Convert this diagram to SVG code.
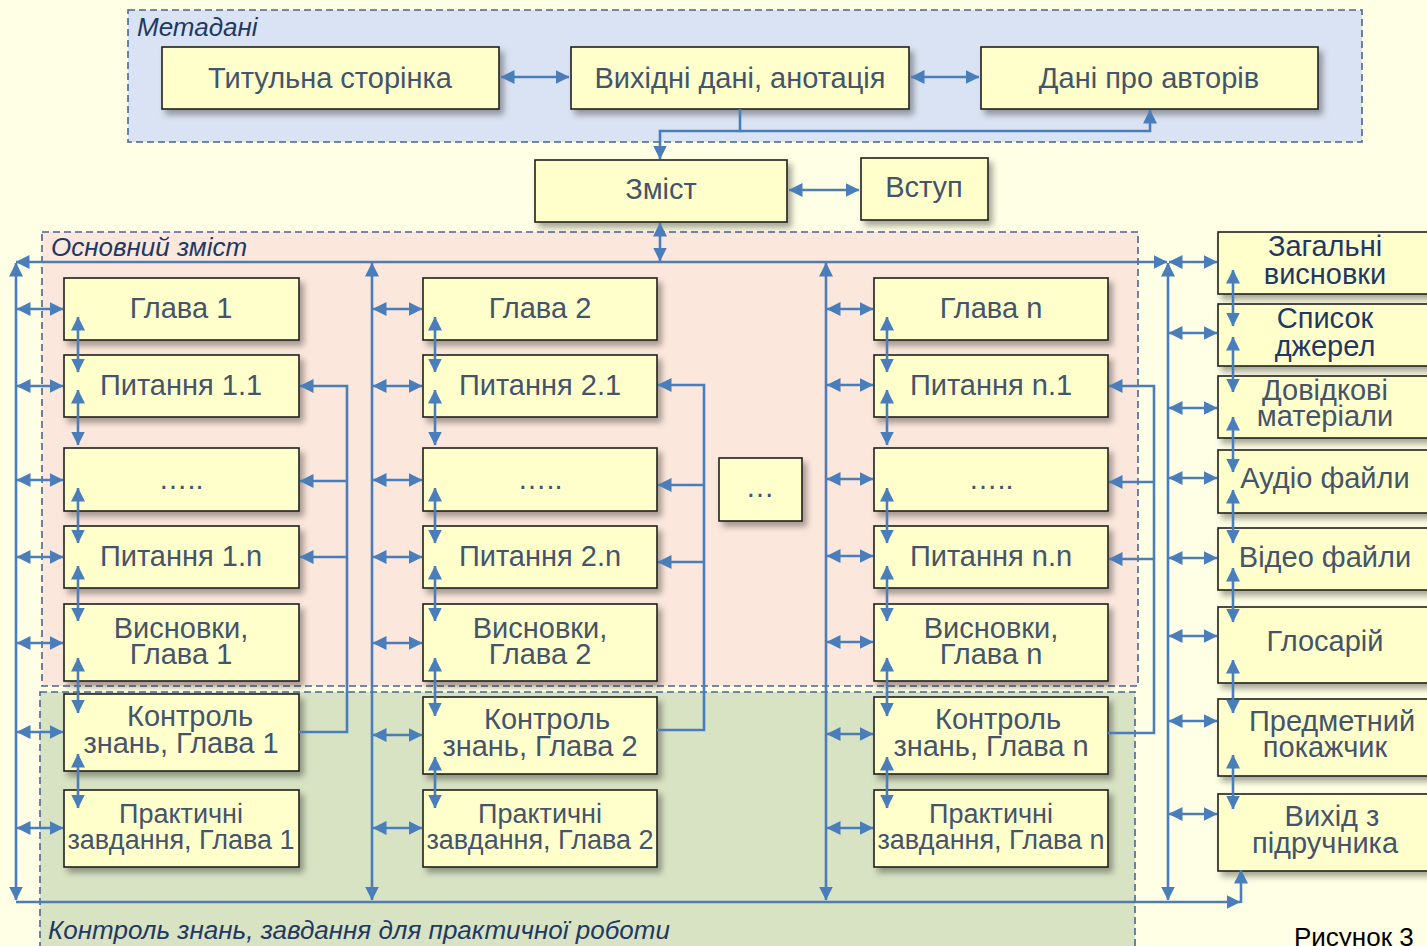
<svg xmlns="http://www.w3.org/2000/svg" width="1427" height="946" viewBox="0 0 1427 946">
<defs>
<style>
.box{fill:#FFFFCC;stroke:#1E1E1E;stroke-width:1.6;filter:url(#sh)}
.t{font-family:"Liberation Sans",Arial,sans-serif;font-size:29px;fill:#44546A;text-anchor:middle}
.ts{font-size:27px}
.tn{fill:#1F3864}
.lbl{font-family:"Liberation Sans",Arial,sans-serif;font-size:26px;font-style:italic;fill:#1F3864}
.c{stroke:#4A7EBB;stroke-width:2.6;fill:none}
.d{marker-start:url(#ah);marker-end:url(#ah)}
.e{marker-end:url(#ah)}
.grp{stroke:#4A6690;stroke-width:1.6;stroke-dasharray:7 4}
</style>
<marker id="ah" viewBox="0 0 14 14" refX="13.5" refY="7" markerWidth="14" markerHeight="14" markerUnits="userSpaceOnUse" orient="auto-start-reverse"><path d="M0,0 L14,7 L0,14 z" fill="#4A7EBB"/></marker>
<filter id="sh" x="-10%" y="-20%" width="130%" height="150%"><feDropShadow dx="4" dy="5" stdDeviation="3" flood-color="#000" flood-opacity="0.35"/></filter>
</defs>
<rect x="0" y="0" width="1427" height="946" fill="#FFFFE6"/>
<g id="groups">
<rect class="grp" x="128" y="10" width="1234" height="132" fill="#DAE3F3"/>
<text class="lbl" x="137" y="36">Метадані</text>
<rect class="grp" x="42" y="232" width="1096" height="454" fill="#FCE7DC"/>
<text class="lbl" x="51" y="256">Основний зміст</text>
<rect class="grp" x="40" y="692" width="1095" height="260" fill="#D8E3C3"/>
<text class="lbl" x="48" y="939">Контроль знань, завдання для практичної роботи</text>
</g>
<g id="n-title"><rect class="box" x="162" y="47" width="337" height="62"/><text class="t" x="330" y="88">Титульна сторінка</text></g>
<g id="n-out"><rect class="box" x="571" y="47" width="338" height="62"/><text class="t" x="740" y="88">Вихідні дані, анотація</text></g>
<g id="n-auth"><rect class="box" x="981" y="47" width="337" height="62"/><text class="t" x="1149" y="88">Дані про авторів</text></g>
<g id="n-toc"><rect class="box" x="535" y="160" width="252" height="62"/><text class="t" x="661" y="199">Зміст</text></g>
<g id="n-intro"><rect class="box" x="861" y="158" width="127" height="62"/><text class="t" x="924" y="197">Вступ</text></g>

<g id="n-g1"><rect class="box" x="64" y="278" width="235" height="62"/><text class="t" x="181" y="318">Глава 1</text></g>
<g id="n-q11"><rect class="box" x="64" y="355" width="235" height="62"/><text class="t" x="181" y="395">Питання 1.1</text></g>
<g id="n-d1"><rect class="box" x="64" y="448" width="235" height="63"/><text class="t" x="181" y="489">…..</text></g>
<g id="n-q1n"><rect class="box" x="64" y="526" width="235" height="62"/><text class="t" x="181" y="566">Питання 1.n</text></g>
<g id="n-v1"><rect class="box" x="64" y="604" width="235" height="77"/><text class="t" x="181" y="638">Висновки,<tspan x="181" y="664">Глава 1</tspan></text></g>
<g id="n-k1"><rect class="box" x="64" y="694" width="235" height="77"/><text class="t" x="190" y="726">Контроль<tspan x="181" y="753">знань, Глава 1</tspan></text></g>
<g id="n-p1"><rect class="box" x="64" y="790" width="235" height="77"/><text class="t ts" x="181" y="823">Практичні<tspan x="181" y="849">завдання, Глава 1</tspan></text></g>

<g id="n-g2"><rect class="box" x="423" y="278" width="234" height="62"/><text class="t" x="540" y="318">Глава 2</text></g>
<g id="n-q21"><rect class="box" x="423" y="355" width="234" height="62"/><text class="t" x="540" y="395">Питання 2.1</text></g>
<g id="n-d2"><rect class="box" x="423" y="448" width="234" height="63"/><text class="t" x="540" y="489">…..</text></g>
<g id="n-q2n"><rect class="box" x="423" y="526" width="234" height="62"/><text class="t" x="540" y="566">Питання 2.n</text></g>
<g id="n-v2"><rect class="box" x="423" y="604" width="234" height="77"/><text class="t" x="540" y="638">Висновки,<tspan x="540" y="664">Глава 2</tspan></text></g>
<g id="n-k2"><rect class="box" x="423" y="697" width="234" height="77"/><text class="t" x="547" y="729">Контроль<tspan x="540" y="756">знань, Глава 2</tspan></text></g>
<g id="n-p2"><rect class="box" x="423" y="790" width="234" height="77"/><text class="t ts" x="540" y="823">Практичні<tspan x="540" y="849">завдання, Глава 2</tspan></text></g>

<g id="n-more"><rect class="box" x="719" y="458" width="83" height="63"/><text class="t" x="760" y="497">…</text></g>

<g id="n-gn"><rect class="box" x="874" y="278" width="234" height="62"/><text class="t" x="991" y="318">Глава n</text></g>
<g id="n-qn1"><rect class="box" x="874" y="355" width="234" height="62"/><text class="t" x="991" y="395">Питання n.1</text></g>
<g id="n-dn"><rect class="box" x="874" y="448" width="234" height="63"/><text class="t" x="991" y="489">…..</text></g>
<g id="n-qnn"><rect class="box" x="874" y="526" width="234" height="62"/><text class="t" x="991" y="566">Питання n.n</text></g>
<g id="n-vn"><rect class="box" x="874" y="604" width="234" height="77"/><text class="t" x="991" y="638">Висновки,<tspan x="991" y="664">Глава n</tspan></text></g>
<g id="n-kn"><rect class="box" x="874" y="697" width="234" height="77"/><text class="t" x="998" y="729">Контроль<tspan x="991" y="756">знань, Глава n</tspan></text></g>
<g id="n-pn"><rect class="box" x="874" y="790" width="234" height="77"/><text class="t ts" x="991" y="823">Практичні<tspan x="991" y="849">завдання, Глава n</tspan></text></g>

<g id="n-concl"><rect class="box" x="1218" y="232" width="216" height="62"/><text class="t tn" x="1325" y="256">Загальні<tspan x="1325" y="284">висновки</tspan></text></g>
<g id="n-src"><rect class="box" x="1218" y="304" width="216" height="62"/><text class="t tn" x="1325" y="328">Список<tspan x="1325" y="356">джерел</tspan></text></g>
<g id="n-ref"><rect class="box" x="1218" y="376" width="216" height="62"/><text class="t" x="1325" y="400">Довідкові<tspan x="1325" y="426">матеріали</tspan></text></g>
<g id="n-audio"><rect class="box" x="1218" y="450" width="216" height="63"/><text class="t" x="1325" y="488">Аудіо файли</text></g>
<g id="n-video"><rect class="box" x="1218" y="528" width="216" height="62"/><text class="t" x="1325" y="567">Відео файли</text></g>
<g id="n-gloss"><rect class="box" x="1218" y="607" width="216" height="76"/><text class="t" x="1325" y="651">Глосарій</text></g>
<g id="n-index"><rect class="box" x="1218" y="699" width="216" height="77"/><text class="t" x="1332" y="731">Предметний<tspan x="1325" y="757">покажчик</tspan></text></g>
<g id="n-exit"><rect class="box" x="1218" y="794" width="216" height="77"/><text class="t" x="1332" y="826">Вихід з<tspan x="1325" y="853">підручника</tspan></text></g>

<g id="connectors">
<path class="c d" d="M501,77 H569"/>
<path class="c d" d="M911,77 H979"/>
<path class="c e" d="M740,109 V131 H660 V159"/>
<path class="c e" d="M740,131 H1150 V110"/>
<path class="c d" d="M789,190 H859"/>
<path class="c d" d="M660,223 V261"/>
<path class="c d" d="M16,262 H1167"/>
<path class="c d" d="M16,263 V900"/>
<path class="c d" d="M372,263 V900"/>
<path class="c d" d="M826,263 V900"/>
<path class="c d" d="M1168,263 V900"/>
<path class="c e" d="M16,902 H1240"/>
<path class="c e" d="M1241,903 V870"/>

<path class="c d" d="M17,309 H63"/><path class="c d" d="M17,386 H63"/><path class="c d" d="M17,480 H63"/><path class="c d" d="M17,557 H63"/><path class="c d" d="M17,643 H63"/><path class="c d" d="M17,732 H63"/><path class="c d" d="M17,828 H63"/>
<path class="c d" d="M373,309 H422"/><path class="c d" d="M373,386 H422"/><path class="c d" d="M373,480 H422"/><path class="c d" d="M373,557 H422"/><path class="c d" d="M373,643 H422"/><path class="c d" d="M373,735 H422"/><path class="c d" d="M373,828 H422"/>
<path class="c d" d="M827,309 H873"/><path class="c d" d="M827,385 H873"/><path class="c d" d="M827,479 H873"/><path class="c d" d="M827,556 H873"/><path class="c d" d="M827,642 H873"/><path class="c d" d="M827,734 H873"/><path class="c d" d="M827,828 H873"/>
<path class="c d" d="M1169,262 H1217"/><path class="c d" d="M1169,333 H1217"/><path class="c d" d="M1169,408 H1217"/><path class="c d" d="M1169,478 H1217"/><path class="c d" d="M1169,558 H1217"/><path class="c d" d="M1169,636 H1217"/><path class="c d" d="M1169,721 H1217"/><path class="c d" d="M1169,814 H1217"/>

<path class="c d" d="M78,317 V372"/><path class="c d" d="M78,390 V445"/><path class="c d" d="M78,488 V543"/><path class="c d" d="M78,566 V621"/><path class="c d" d="M78,658 V713"/><path class="c d" d="M78,754 V808"/>
<path class="c d" d="M435,317 V372"/><path class="c d" d="M435,390 V445"/><path class="c d" d="M435,488 V543"/><path class="c d" d="M435,566 V621"/><path class="c d" d="M435,658 V716"/><path class="c d" d="M435,757 V808"/>
<path class="c d" d="M887,317 V372"/><path class="c d" d="M887,390 V445"/><path class="c d" d="M887,488 V543"/><path class="c d" d="M887,566 V621"/><path class="c d" d="M887,658 V716"/><path class="c d" d="M887,757 V808"/>
<path class="c d" d="M1233,270 V326"/><path class="c d" d="M1233,337 V392"/><path class="c d" d="M1233,417 V472"/><path class="c d" d="M1233,490 V543"/><path class="c d" d="M1233,568 V622"/><path class="c d" d="M1233,660 V713"/><path class="c d" d="M1233,755 V809"/>

<path class="c e" d="M299,732 H347 V386 H300"/>
<path class="c e" d="M347,481 H300"/>
<path class="c e" d="M347,557 H300"/>
<path class="c e" d="M657,730 H704 V385 H658"/>
<path class="c e" d="M704,485 H658"/>
<path class="c e" d="M704,562 H658"/>
<path class="c e" d="M1108,733 H1154 V386 H1109"/>
<path class="c e" d="M1154,482 H1109"/>
<path class="c e" d="M1154,559 H1109"/>
</g>
<text x="1294" y="946" font-family="Liberation Sans, Arial, sans-serif" font-size="26" fill="#000">Рисунок 3</text>
</svg>
